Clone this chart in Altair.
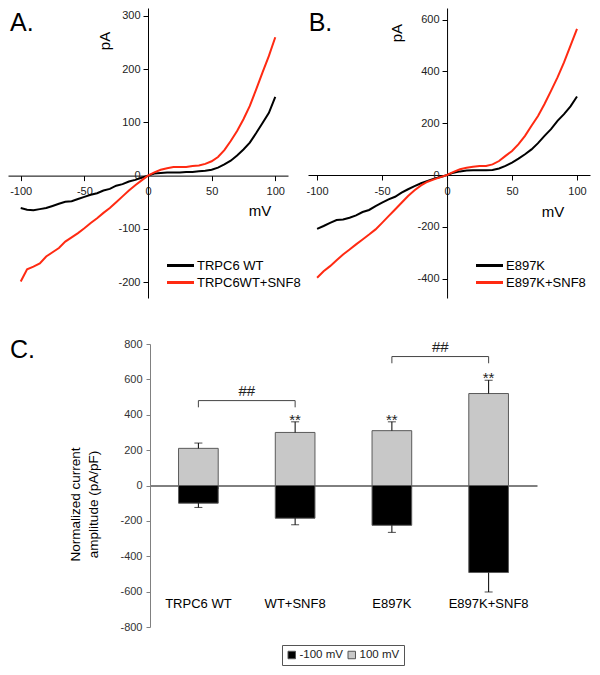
import altair as alt
import pandas as pd

# ---------------- data ----------------
VOLTAGES = list(range(-100, 101, 5))  # mV

A_WT = [-61, -64, -65, -63, -61, -57, -53, -49, -48, -44, -40, -36, -33, -28, -25, -19, -16, -11, -8, -4,
        0, 4, 5, 6, 6, 6, 7, 7, 8, 9, 11, 15, 21, 28, 38, 49, 62, 80, 99, 118, 148]
A_WT_SNF8 = [-199, -176, -171, -165, -152, -144, -136, -124, -116, -108, -99, -89, -80, -70, -61, -50, -39, -28, -18, -9,
             0, 6, 11, 14, 16, 16, 16, 18, 19, 22, 27, 35, 48, 65, 84, 106, 131, 162, 194, 225, 260]
B_E897K = [-208, -197, -185, -174, -172, -165, -156, -143, -135, -120, -107, -94, -84, -68, -55, -43, -32, -23, -14, -8,
           0, 9, 14, 17, 18, 18, 18, 19, 25, 35, 48, 63, 80, 99, 123, 151, 177, 209, 235, 265, 303]
B_E897K_SNF8 = [-397, -372, -352, -329, -307, -288, -268, -249, -230, -210, -185, -159, -133, -107, -81, -59, -40, -26, -17, -8,
                0, 12, 22, 28, 32, 35, 35, 41, 54, 74, 93, 119, 151, 190, 228, 274, 325, 377, 435, 500, 564]

A_SERIES = ["TRPC6 WT", "TRPC6WT+SNF8"]
B_SERIES = ["E897K", "E897K+SNF8"]
IV_X_TICKS = list(range(-100, 101, 25))
A_Y_TICKS = list(range(-200, 301, 50))
B_Y_TICKS = list(range(-400, 601, 100))

GROUPS = ["TRPC6 WT", "WT+SNF8", "E897K", "E897K+SNF8"]
HOLD = ["-100 mV", "100 mV"]
AMP_NEG = [-100, -185, -225, -492]
ERR_NEG = [24, 37, 40, 110]
AMP_POS = [210, 300, 310, 520]
ERR_POS = [30, 60, 50, 75]
STARS = ["", "**", "**", "**"]
C_Y_TICKS = list(range(-800, 801, 200))
BRACKET_FROM = ["TRPC6 WT", "E897K"]
BRACKET_TO = ["WT+SNF8", "E897K+SNF8"]
BRACKET_Y = [480, 729]
BRACKET_LEG = 38
BRACKET_TEXT = ["##", "##"]

RED = "#ff2a12"
FONT = "Liberation Sans"


# ---------------- panels A and B ----------------
def iv_panel(s1, s2, names, xdom, ydom, yticks, ystep, width, height,
             letter, letter_xy, pa_xy, mv_xy, legend_xy):
    df = pd.DataFrame({
        "mV": VOLTAGES + VOLTAGES,
        "pA": s1 + s2,
        "series": [names[0]] * len(VOLTAGES) + [names[1]] * len(VOLTAGES),
    })
    zero_y_px = height * ydom[1] / (ydom[1] - ydom[0])
    zero_x_px = width * (-xdom[0]) / (xdom[1] - xdom[0])
    common = dict(domainColor="black", tickColor="black", tickSize=5, labelFont=FONT,
                  labelFontSize=11, labelColor="#222", grid=False, title=None,
                  labelOverlap=False, labelFlush=False)
    xs = alt.Scale(domain=xdom, nice=False, zero=False)
    ys = alt.Scale(domain=ydom, nice=False, zero=False)
    lines = alt.Chart(df).mark_line(strokeWidth=2).encode(
        x=alt.X("mV:Q", scale=xs, axis=alt.Axis(
            values=IV_X_TICKS, offset=-(height - zero_y_px), labelPadding=5,
            labelExpr="datum.value % 50 === 0 ? '' + datum.value : ''", **common)),
        y=alt.Y("pA:Q", scale=ys, axis=alt.Axis(
            values=yticks, offset=-zero_x_px, labelPadding=3,
            labelExpr=f"datum.value % {ystep} === 0 ? '' + datum.value : ''", **common)),
        color=alt.Color("series:N", scale=alt.Scale(domain=names, range=["black", RED]),
                        legend=alt.Legend(orient="none", legendX=legend_xy[0], legendY=legend_xy[1],
                                          title=None, symbolType="M-2,0L2,0", symbolStrokeWidth=3,
                                          symbolSize=182, labelFont=FONT, labelFontSize=13,
                                          labelColor="black", rowPadding=1, labelOffset=8, padding=0)),
        order=alt.Order("mV:Q"),
    )
    one = alt.Data(values=[{}])
    t_letter = alt.Chart(one).mark_text(text=letter, font=FONT, fontSize=25, align="left",
                                         baseline="alphabetic", color="black").encode(
        x=alt.datum(letter_xy[0]), y=alt.datum(letter_xy[1]))
    t_pa = alt.Chart(one).mark_text(text="pA", font=FONT, fontSize=15, angle=270,
                                     align="center", baseline="middle", color="black").encode(
        x=alt.datum(pa_xy[0]), y=alt.datum(pa_xy[1]))
    t_mv = alt.Chart(one).mark_text(text="mV", font=FONT, fontSize=15,
                                     align="center", baseline="middle", color="black").encode(
        x=alt.datum(mv_xy[0]), y=alt.datum(mv_xy[1]))
    return alt.layer(lines, t_letter, t_pa, t_mv).properties(width=width, height=height)


panel_a = iv_panel(A_WT, A_WT_SNF8, A_SERIES, [-110, 110], [-230, 315], A_Y_TICKS, 100, 280, 290,
                   "A.", (-108.4, 271.8), (-33.8, 253), (88, -66.5), (164, 249))
panel_b = iv_panel(B_E897K, B_E897K_SNF8, B_SERIES, [-107, 110], [-475, 645], B_Y_TICKS, 200, 282, 290,
                   "B.", (-106.5, 556), (-38.5, 548), (81.5, -143), (173, 249))

# ---------------- panel C ----------------
C_W, C_H = 584, 366
C_LEFT, C_RIGHT = 142, 529
C_TOP, C_BOTTOM = 44, 327
zero_c = (C_TOP + C_BOTTOM) / 2
step = (C_RIGHT - C_LEFT) / len(GROUPS)

rows = []
for g, v, e in zip(GROUPS, AMP_NEG, ERR_NEG):
    rows.append({"group": g, "hold": HOLD[0], "value": v, "end": v - e, "star": ""})
for g, v, e, s in zip(GROUPS, AMP_POS, ERR_POS, STARS):
    rows.append({"group": g, "hold": HOLD[1], "value": v, "end": v + e, "star": s})
cdf = pd.DataFrame(rows)

br_rows = []
for i, (f, t, yv, txt) in enumerate(zip(BRACKET_FROM, BRACKET_TO, BRACKET_Y, BRACKET_TEXT)):
    br_rows += [
        {"id": i, "o": 0, "group": f, "y": yv - BRACKET_LEG, "txt": txt},
        {"id": i, "o": 1, "group": f, "y": yv, "txt": txt},
        {"id": i, "o": 2, "group": t, "y": yv, "txt": txt},
        {"id": i, "o": 3, "group": t, "y": yv - BRACKET_LEG, "txt": txt},
    ]
bdf = pd.DataFrame(br_rows)

xsc = alt.Scale(domain=GROUPS, range=[C_LEFT, C_RIGHT], paddingInner=0.59, paddingOuter=0.295)
ysc = alt.Scale(domain=[-800, 800], range=[C_BOTTOM, C_TOP], nice=False, zero=False)
xax = alt.Axis(offset=-(C_H - zero_c), bandPosition=1, labels=False, title=None,
               domainColor="black", tickColor="#777", tickSize=3, grid=False)
yax = alt.Axis(values=C_Y_TICKS, offset=-C_LEFT, labelExpr="'' + datum.value",
               domainColor="#808080", tickColor="#808080", tickSize=4, labelFont=FONT,
               labelFontSize=11, labelColor="#333", labelPadding=4, labelOverlap=False,
               labelFlush=False, grid=False,
               title=["Normalized current", "amplitude (pA/pF)"], titleAngle=270,
               titleAlign="center", titleBaseline="middle", titleX=-75, titleY=204,
               titleFont=FONT, titleFontSize=13.5, titleFontWeight="normal",
               titleColor="black", titleLineHeight=18)


def cx():
    return alt.X("group:N", sort=GROUPS, scale=xsc, axis=xax)


bars = alt.Chart(cdf).mark_bar(stroke="#5a5a5a", strokeWidth=1).encode(
    x=cx(),
    y=alt.Y("value:Q", scale=ysc, stack=None, axis=yax),
    y2=alt.datum(0),
    color=alt.Color("hold:N", scale=alt.Scale(domain=HOLD, range=["black", "#c8c8c8"]),
                    legend=alt.Legend(orient="none", legendX=274, legendY=345, direction="horizontal",
                                      title=None, symbolType="square", symbolSize=56,
                                      symbolStrokeColor="#555", symbolStrokeWidth=1,
                                      labelFont=FONT, labelFontSize=11.5, labelColor="#222",
                                      strokeColor="#555", fillColor="white", padding=4,
                                      columnPadding=3, labelOffset=2)),
)
err = alt.Chart(cdf).mark_rule(color="black", strokeWidth=1).encode(
    x=cx(),
    y=alt.Y("value:Q", scale=ysc, axis=yax),
    y2="end:Q",
)
caps = alt.Chart(cdf).mark_tick(color="black", size=8, thickness=1).encode(
    x=cx(),
    y=alt.Y("end:Q", scale=ysc, axis=yax),
)
stars = alt.Chart(cdf).mark_text(font=FONT, fontSize=15, baseline="alphabetic", dy=3, color="#222").encode(
    x=cx(),
    y=alt.Y("end:Q", scale=ysc, axis=yax),
    text="star:N",
)
brackets = alt.Chart(bdf).mark_line(color="#444", strokeWidth=1).encode(
    x=cx(),
    y=alt.Y("y:Q", scale=ysc, axis=yax),
    detail="id:N",
    order="o:Q",
)
hash_text = alt.Chart(bdf).transform_filter("datum.o == 1").mark_text(
    font=FONT, fontSize=15, baseline="alphabetic", dx=step / 2, dy=-5, color="#222").encode(
    x=cx(),
    y=alt.Y("y:Q", scale=ysc, axis=yax),
    text="txt:N",
)
cat_df = pd.DataFrame({"group": GROUPS})
cat_labels = alt.Chart(cat_df).mark_text(font=FONT, fontSize=13, baseline="middle", color="black").encode(
    x=cx(),
    y=alt.YDatum(-670, scale=ysc, axis=yax),
    text="group:N",
)
c_letter = alt.Chart(alt.Data(values=[{}])).mark_text(
    text="C.", font=FONT, fontSize=25, align="left", baseline="alphabetic", color="black").encode(
    x=alt.value(2), y=alt.value(58))

panel_c = alt.layer(bars, err, caps, stars, brackets, hash_text, cat_labels, c_letter).properties(
    width=C_W, height=C_H)

top = alt.hconcat(panel_a, panel_b, spacing=20, bounds="flush").resolve_scale(color="independent")
chart = alt.vconcat(top, panel_c, spacing=2).resolve_scale(
    color="independent").properties(padding=0).configure_view(stroke=None)

chart.save("out.html", embed_options={"renderer": "svg", "actions": False})
